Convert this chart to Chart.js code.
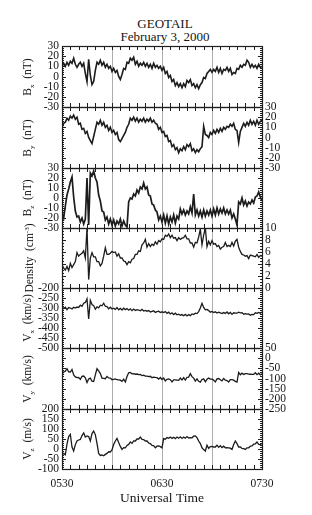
<!DOCTYPE html>
<html lang="en">
<head>
<meta charset="UTF-8" />
<title>GEOTAIL February 3, 2000</title>
<script src="https://cdn.jsdelivr.net/npm/chart.js"></script>
<style>
  body { margin: 0; background: #fff; }
  #page { position: relative; width: 312px; height: 515px; overflow: hidden; font-family: 'Liberation Serif', serif; color: #151515; }
  #page canvas { position: absolute; left: 0; }
  .title { position: absolute; left: 0; top: 17px; width: 330px; text-align: center; font-size: 13px; line-height: 13px; }
  .ylab { position: absolute; width: 90px; height: 14px; line-height: 14px; text-align: center; font-size: 11.5px; white-space: nowrap; transform: rotate(-90deg); }
  .ylab sub { font-size: 7px; vertical-align: -3px; }
  .ylab sup { font-size: 7px; vertical-align: 4px; }
</style>
</head>
<body>
<div id="page">
  <div class="title">GEOTAIL<br>February 3, 2000</div>
</div>

<script>
// one sample per minute, 05:30 -> 07:30 UT
const bx = [10, 13, 10, 14, 11, 15, 13, 18, 12, 9,
  12, 14, 10, 13, 3, -5, 17, 1, -8, -5,
  6, 14, 12, 16, 11, 14, 9, 12, 8, 10,
  5, 8, 4, 6, 0, -3, 2, 8, 7, 14,
  13, 18, 16, 19, 12, 15, 10, 13, 11, 14,
  10, 13, 9, 12, 8, 13, 9, 11, 8, 10,
  6, 9, 3, 5, -1, 1, -5, -3, -9, -6,
  -10, -7, -11, -7, -10, -4, -6, -3, -9, -7,
  -11, -8, -12, -8, -6, -1, -2, 3, 5, 7,
  4, 7, 5, 9, 4, 8, 3, 7, 6, 9,
  5, 8, 2, 4, 3, 8, 7, 11, 9, 12,
  11, 16, 14, 9, 12, 9, 11, 8, 12, 9,
  10];
const by = [10, 14, 15, 19, 17, 21, 19, 22, 18, 20,
  13, 14, 8, 9, 4, 6, 0, -3, -6, 1,
  8, 15, 13, 17, 12, 15, 10, 12, 7, 10,
  5, 7, 3, 5, -2, -4, -1, 2, 5, 10,
  13, 19, 17, 20, 16, 19, 15, 18, 16, 19,
  15, 18, 16, 19, 15, 17, 14, 13, 8, 10,
  5, 6, 1, 2, -4, -3, -9, -7, -12, -10,
  -15, -11, -13, -9, -12, -7, -9, -6, -13, -11,
  -15, -12, -14, -11, -9, 11, 3, 2, 0, 5,
  3, 7, 4, 8, 5, 9, 6, 10, 8, 11,
  10, 13, 11, 14, 8, 7, -5, 6, 10, 14,
  11, 15, 12, 17, 13, 16, 12, 17, 13, 16,
  17];
const bz = [-15, -20, -8, 3, 9, 16, 21, 1, -13, -19,
  -18, -24, -20, -26, -21, 20, -27, 25, 22, 27,
  20, 16, 3, -3, -13, -14, -22, -19, -26, -21,
  -27, -22, -28, -23, -26, -21, -28, -23, -27, -29,
  -4, 0, -1, 4, 2, 8, 5, 11, 9, 15,
  9, 11, 3, 2, -6, -7, -12, -14, -22, -18,
  -24, -17, -25, -18, -26, -19, -24, -17, -25, -18,
  -21, -11, -16, -12, -17, -13, -16, -9, -15, 4,
  -17, -12, -18, -13, -19, -12, -18, -13, -17, -12,
  -18, -11, -17, -10, -16, -11, -15, -10, -16, -12,
  -16, -12, -20, -16, -21, -27, -4, -6, 0, -7,
  -3, -8, -4, -6, -2, -5, 1, 2, 6, 1,
  -3];
const density = [3.9, 3.3, 3.0, 3.6, 2.9, 4.1, 3.4, 3.9, 4.4, 5.9,
  5.3, 5.6, 5.8, 6.2, 5.0, 10.0, 1.4, 5.0, 5.9, 5.2,
  5.2, 4.4, 4.4, 3.7, 4.1, 5.3, 6.7, 5.6, 5.6, 5.8,
  6.1, 5.9, 6.0, 5.3, 5.7, 5.0, 5.0, 4.5, 4.4, 3.9,
  4.4, 4.2, 4.8, 4.9, 5.6, 5.6, 6.2, 6.1, 7.2, 7.5,
  8.1, 6.8, 7.4, 6.9, 7.3, 7.1, 7.7, 7.3, 7.9, 7.7,
  8.2, 8.1, 8.8, 8.6, 9.0, 8.4, 8.8, 8.3, 8.4, 7.9,
  8.4, 8.1, 8.3, 8.4, 8.8, 8.2, 8.2, 7.5, 7.5, 6.8,
  7.6, 7.5, 8.5, 9.8, 7.2, 8.8, 10.0, 6.9, 7.8, 7.2,
  7.9, 7.3, 7.4, 6.9, 7.1, 6.5, 6.8, 6.9, 7.6, 6.9,
  7.1, 6.9, 7.6, 7.0, 7.8, 8.1, 6.8, 6.1, 5.6, 5.5,
  5.3, 5.4, 4.9, 5.5, 5.4, 5.3, 5.2, 5.6, 5.1, 5.4,
  5.3];
const vx = [-292, -303, -296, -308, -298, -300, -305, -296, -300, -295,
  -297, -286, -292, -276, -272, -254, -355, -262, -283, -288,
  -306, -294, -299, -286, -289, -276, -291, -293, -304, -296,
  -305, -301, -307, -298, -309, -302, -310, -301, -308, -303,
  -311, -304, -313, -305, -312, -308, -310, -314, -307, -315,
  -312, -316, -313, -320, -317, -314, -322, -318, -316, -323,
  -319, -323, -318, -327, -321, -330, -324, -333, -326, -334,
  -331, -336, -333, -339, -332, -340, -333, -338, -330, -333,
  -326, -328, -318, -300, -277, -297, -309, -307, -313, -321,
  -317, -323, -319, -325, -321, -324, -328, -323, -327, -320,
  -329, -322, -332, -324, -326, -326, -321, -324, -323, -331,
  -328, -331, -330, -336, -332, -333, -324, -327, -322, -326,
  -320];
const vy = [-80, -68, -64, -52, -67, -68, -56, -82, -92, -96,
  -95, -104, -89, -88, -97, -120, -102, -98, -113, -115,
  -82, -52, -63, -76, -98, -99, -101, -90, -97, -98,
  -106, -104, -102, -106, -107, -108, -114, -103, -117, -90,
  -72, -70, -77, -76, -79, -78, -81, -80, -86, -84,
  -88, -88, -91, -89, -96, -93, -95, -96, -103, -95,
  -105, -98, -112, -104, -102, -106, -117, -107, -107, -108,
  -109, -98, -107, -96, -108, -94, -93, -76, -91, -98,
  -113, -102, -114, -118, -105, -102, -116, -104, -98, -103,
  -103, -108, -117, -102, -100, -106, -112, -100, -108, -110,
  -117, -106, -106, -108, -114, -118, -70, -82, -74, -80,
  -76, -76, -78, -79, -80, -80, -72, -81, -74, -82,
  -77];
const vz = [-27, -22, -29, 25, 62, 73, 10, -10, 22, 40,
  45, 48, 67, 80, 60, 65, 62, 40, 77, 90,
  72, 28, -22, -32, -30, -34, -27, -22, -14, -15,
  -5, 22, 40, 53, 32, 13, -2, 7, 6, 18,
  23, 35, 28, 40, 40, 50, 50, 60, 48, 47,
  40, 40, 30, 27, 18, 17, 6, 14, 15, 12,
  6, 52, 49, 57, 54, 60, 53, 59, 52, 60,
  54, 61, 53, 60, 54, 62, 55, 57, 56, 64,
  65, 57, 40, 27, 6, -3, -10, 19, 3, 12,
  13, 10, 10, 19, 8, 16, 7, 14, 6, 7,
  6, 4, -2, 22, 40, 27, 10, 10, 3, 2,
  -2, 6, 6, 14, 15, 24, 26, 35, 23, 22,
  17];

const timeTickValues = [0, 60, 120];
const timeTickLabels = ['0530', '0630', '0730'];

const panels = [
  { values: bx, min: -30, max: 30, step: 10, minor: 2, side: 'left', label: 'B<sub>x</sub>&nbsp;&nbsp;(nT)', lw: 1.6 },
  { values: by, min: -30, max: 30, step: 10, minor: 2, side: 'right', label: 'B<sub>y</sub>&nbsp;&nbsp;(nT)', lw: 1.6 },
  { values: bz, min: -30, max: 30, step: 10, minor: 2, side: 'left', label: 'B<sub>z</sub>&nbsp;&nbsp;(nT)', lw: 1.7 },
  { values: density, min: 0, max: 10, step: 2, minor: 0.5, side: 'right', label: 'Density&nbsp;&nbsp;(cm<sup>-3</sup>)', lw: 1.3 },
  { values: vx, min: -500, max: -200, step: 50, minor: 10, side: 'left', label: 'V<sub>x</sub>&nbsp;&nbsp;(km/s)', lw: 1.3 },
  { values: vy, min: -250, max: 50, step: 50, minor: 10, side: 'right', label: 'V<sub>y</sub>&nbsp;&nbsp;(km/s)', lw: 1.3 },
  { values: vz, min: -100, max: 200, step: 50, minor: 10, side: 'left', label: 'V<sub>z</sub>&nbsp;&nbsp;(m/s)', lw: 1.3 }
];

// panel borders (px from top of page)
const edges = [46, 107, 168, 228, 288, 348, 409, 469];
const PAD = 10;
const PLOT_LEFT = 62, PLOT_RIGHT = 262, W = 312, H = 515;

Chart.defaults.font.family = "'Liberation Serif', 'Times New Roman', serif";
Chart.defaults.color = '#151515';

// frame + inward ticks, like the original plots
const frameTicks = {
  id: 'frameTicks',
  afterDatasetsDraw(chart, args, opts) {
    const { ctx, chartArea: a, scales } = chart;
    const x = scales.x, y = scales.y;
    ctx.save();
    ctx.strokeStyle = '#1e1e1e';
    ctx.lineWidth = 1;
    ctx.beginPath();
    for (let m = 0; m <= 120; m += 5) {
      const px = Math.round(x.getPixelForValue(m)) + 0.5;
      ctx.moveTo(px, a.top); ctx.lineTo(px, a.top + 4);
      ctx.moveTo(px, a.bottom); ctx.lineTo(px, a.bottom - 4);
    }
    const n = Math.round((y.max - y.min) / opts.minor);
    for (let i = 0; i <= n; i++) {
      const v = y.min + i * opts.minor;
      const py = Math.round(y.getPixelForValue(v)) + 0.5;
      const r = v / opts.step;
      const len = Math.abs(r - Math.round(r)) < 1e-6 ? 4 : 2;
      ctx.moveTo(a.left, py); ctx.lineTo(a.left + len, py);
      ctx.moveTo(a.right, py); ctx.lineTo(a.right - len, py);
    }
    ctx.stroke();
    ctx.lineWidth = 1.2;
    ctx.strokeRect(Math.round(a.left) + 0.5, Math.round(a.top) + 0.5,
      Math.round(a.right - a.left), Math.round(a.bottom - a.top));
    ctx.restore();
  }
};

const page = document.getElementById('page');
const minutes = bx.map((_, i) => i);

panels.forEach((p, i) => {
  const last = i === panels.length - 1;
  const top = edges[i] - PAD;
  const bottom = last ? H : edges[i + 1] + PAD;
  const canvas = document.createElement('canvas');
  canvas.width = W;
  canvas.height = bottom - top;
  canvas.style.top = top + 'px';
  page.appendChild(canvas);

  const cy = (edges[i] + edges[i + 1]) / 2;
  const lab = document.createElement('div');
  lab.className = 'ylab';
  lab.innerHTML = p.label;
  lab.style.left = (27 - 45) + 'px';
  lab.style.top = (cy - 7) + 'px';
  page.appendChild(lab);

  const tickFont = { size: 11.5, lineHeight: 1 };
  new Chart(canvas, {
    type: 'line',
    data: {
      datasets: [{
        data: p.values.map((v, k) => ({ x: minutes[k], y: v })),
        borderColor: '#1c1c1c',
        borderWidth: p.lw,
        pointRadius: 0,
        tension: 0,
        yAxisID: 'y'
      }]
    },
    options: {
      responsive: false,
      animation: false,
      layout: { padding: { top: PAD, bottom: 0, left: 0, right: 0 } },
      plugins: {
        legend: { display: false },
        tooltip: { enabled: false },
        frameTicks: { step: p.step, minor: p.minor }
      },
      scales: {
        x: {
          type: 'linear', min: 0, max: 120,
          border: { display: false },
          grid: {
            drawTicks: false,
            lineWidth: 1,
            color: c => (c.tick && [30, 60, 90].includes(c.tick.value)) ? 'rgba(0,0,0,0.32)' : 'rgba(0,0,0,0)'
          },
          ticks: {
            display: last, stepSize: 30, autoSkip: false, maxRotation: 0, padding: 8,
            font: { size: 11.5 },
            callback: v => { const k = timeTickValues.indexOf(v); return k >= 0 ? timeTickLabels[k] : ''; }
          },
          title: { display: last, text: 'Universal Time', font: { size: 13.5 }, padding: { top: 0, bottom: 8 } },
          afterFit: s => { s.height = last ? H - edges[7] : PAD; }
        },
        y: {
          position: 'left', min: p.min, max: p.max,
          border: { display: false },
          grid: { display: false, drawTicks: false },
          ticks: { display: p.side === 'left', stepSize: p.step, autoSkip: false, padding: 3, font: tickFont },
          afterFit: s => { s.width = PLOT_LEFT; }
        },
        y2: {
          position: 'right', min: p.min, max: p.max,
          border: { display: false },
          grid: { display: false, drawTicks: false },
          ticks: { display: p.side === 'right', stepSize: p.step, autoSkip: false, padding: 3, font: tickFont },
          afterFit: s => { s.width = W - PLOT_RIGHT; }
        }
      }
    },
    plugins: [frameTicks]
  });
});
</script>
</body>
</html>
